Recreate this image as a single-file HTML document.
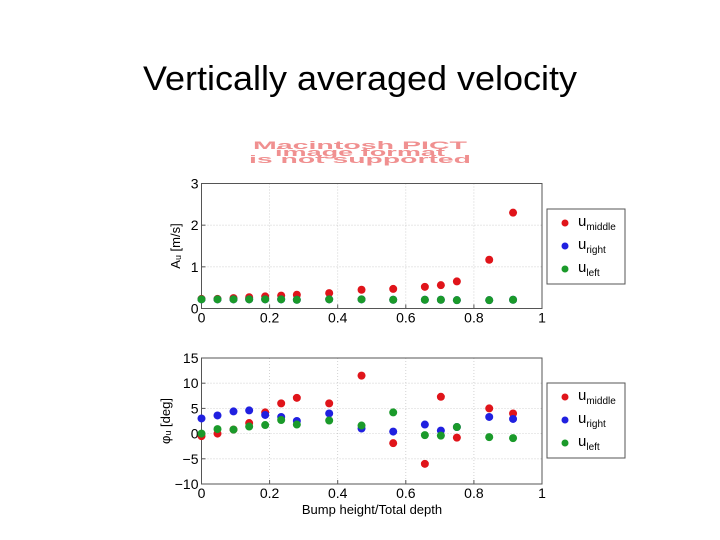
<!DOCTYPE html>
<html><head><meta charset="utf-8"><style>
body{margin:0;background:#fff;}
svg{display:block;font-family:"Liberation Sans",Arial,sans-serif;}
</style></head><body>
<svg width="720" height="540" viewBox="0 0 720 540">
<text x="360" y="90" font-size="34" text-anchor="middle" textLength="434" lengthAdjust="spacingAndGlyphs" fill="#000">Vertically averaged velocity</text>
<g fill="#f09090" font-size="11" font-weight="bold" text-anchor="middle">
<text x="360" y="149" textLength="214" lengthAdjust="spacingAndGlyphs">Macintosh PICT</text>
<text x="360" y="156" textLength="170" lengthAdjust="spacingAndGlyphs">image format</text>
<text x="360" y="163" textLength="222" lengthAdjust="spacingAndGlyphs">is not supported</text>
</g>
<g id="charts"></g>
</svg>
<script>
const xs=[0,0.047,0.094,0.14,0.187,0.234,0.28,0.375,0.47,0.563,0.656,0.703,0.75,0.845,0.915];
const topMiddle=[0.23,0.23,0.25,0.27,0.29,0.31,0.33,0.37,0.45,0.47,0.52,0.56,0.65,1.17,2.3];
const topRight=[0.22,0.22,0.22,0.22,0.22,0.22,0.21,0.22,0.22,0.21,0.21,0.21,0.2,0.2,0.21];
const topLeft=[0.22,0.22,0.22,0.22,0.22,0.22,0.21,0.22,0.22,0.21,0.21,0.21,0.2,0.2,0.21];
const botMiddle=[-0.5,0,0.8,2.1,4.2,6,7.1,6,11.5,-1.9,-6,7.3,-0.8,5,4];
const botRight=[3,3.6,4.4,4.6,3.7,3.3,2.5,4,1,0.4,1.8,0.6,1.3,3.3,2.9];
const botLeft=[0,0.9,0.8,1.4,1.7,2.7,1.8,2.6,1.6,4.2,-0.3,-0.4,1.3,-0.7,-0.9];
const xTicks=[0,0.2,0.4,0.6,0.8,1];
const xTickLabels=["0","0.2","0.4","0.6","0.8","1"];
const topYTicks=[0,1,2,3];
const botYTicks=[-10,-5,0,5,10,15];
const NS="http://www.w3.org/2000/svg";
const root=document.getElementById('charts');
function mk(tag,attrs,parent,text){const e=document.createElementNS(NS,tag);for(const k in attrs)e.setAttribute(k,attrs[k]);if(text!==undefined)e.textContent=text;parent.appendChild(e);return e;}
const X0=201.5,X1=542;
const xScale=v=>X0+(X1-X0)*v;
function panel(name,yTop,yBot,ymin,ymax,yTicks,series,legTop,ylabel,ylx,xlabel){
 const g=mk('g',{},root);
 
 
 const ys=v=>yBot-(yBot-yTop)*(v-ymin)/(ymax-ymin);
 mk('rect',{x:X0,y:yTop,width:X1-X0,height:yBot-yTop,fill:'#fff',stroke:'none'},g);
 const grid=mk('g',{stroke:'#c8c8c8','stroke-dasharray':'1 2','stroke-width':0.8},g);
 
 
 xTicks.forEach(t=>{if(t>0&&t<1)mk('line',{x1:xScale(t),x2:xScale(t),y1:yTop,y2:yBot},grid);});
 yTicks.forEach(t=>{if(t>ymin&&t<ymax)mk('line',{x1:X0,x2:X1,y1:ys(t),y2:ys(t)},grid);});
 mk('rect',{x:X0,y:yTop,width:X1-X0,height:yBot-yTop,fill:'none',stroke:'#555','stroke-width':1},g);
 const xa=mk('g',{'font-size':14,'text-anchor':'middle',fill:'#000'},g);
 
 
 xTicks.forEach((t,i)=>{mk('line',{x1:xScale(t),x2:xScale(t),y1:yBot,y2:yBot-4,stroke:'#555'},xa);mk('text',{x:xScale(t),y:yBot+14},xa,xTickLabels[i]);});
 const ya=mk('g',{'font-size':14,'text-anchor':'end',fill:'#000'},g);
 
 
 yTicks.forEach(t=>{mk('line',{x1:X0,x2:X0+4,y1:ys(t),y2:ys(t),stroke:'#555'},ya);mk('text',{x:X0-3,y:ys(t)+5},ya,t<0?'\u2212'+(-t):String(t));});
 const yl=mk('text',{transform:`translate(${ylx},${(yTop+yBot)/2}) rotate(-90)`,'font-size':13,'text-anchor':'middle'},g,ylabel);
 
 
 if(xlabel){const xl=mk('text',{x:372,y:yBot+30,'font-size':13,'text-anchor':'middle'},g,xlabel);
  
  }
 series.forEach(s=>{
  const sg=mk('g',{fill:s.c},g);
  
  
  s.v.forEach((v,i)=>{const c=mk('circle',{cx:xScale(xs[i]),cy:ys(v),r:4},sg);
   
   });
 });
 const lg=mk('g',{},g);
 
 
 mk('rect',{x:547,y:legTop,width:78,height:75,fill:'#fff',stroke:'#555'},lg);
 const labs=[['middle','#e0141a'],['right','#2020e0'],['left','#1a9a2a']];
 labs.forEach((l,i)=>{const yy=legTop+17+i*23;
  const e=mk('g',{},lg);
  
  
  mk('circle',{cx:565,cy:yy-3,r:3.5,fill:l[1]},e);
  const t=mk('text',{x:578,y:yy,'font-size':15},e,'u');
  mk('tspan',{dy:4,'font-size':10},t,l[0]);});
}
panel('top-chart',183.5,308.5,0,3,topYTicks,[{n:'middle',v:topMiddle,c:'#e0141a'},{n:'right',v:topRight,c:'#2020e0'},{n:'left',v:topLeft,c:'#1a9a2a'}],209,'A\u1d64 [m/s]',180);
panel('bottom-chart',358,484,-10,15,botYTicks,[{n:'middle',v:botMiddle,c:'#e0141a'},{n:'right',v:botRight,c:'#2020e0'},{n:'left',v:botLeft,c:'#1a9a2a'}],383,'\u03c6\u1d64 [deg]',170,'Bump height/Total depth');
</script>
</body></html>
